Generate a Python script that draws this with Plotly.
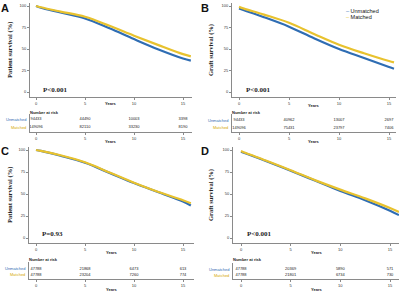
import plotly.graph_objects as go

W, H = 400, 293
BLUE = "#2f6db3"
YELLOW = "#e8c22e"

# ---- data ----
t_pts = [0, 0.5, 2.5, 5, 7.5, 10, 12.5, 15]
A_unm = [100, 98, 92.5, 85.5, 74, 61.5, 49.5, 39]
A_mat = [100, 98.5, 93.5, 87.5, 77, 65.5, 54.5, 44]
A_end = [15.8, 36.5, 41.5]
B_unm = [97, 95, 87, 76, 62.5, 50, 39.5, 29]
B_mat = [99, 97, 90, 80.5, 67.5, 55, 45, 36]
B_end = [15.5, 27, 34.5]
C_unm = [100, 99, 93.5, 85.5, 74, 62.5, 52, 41.5]
C_mat = [100, 99, 94, 86, 74.5, 62.8, 52.3, 43]
C_end = [15.8, 37, 39.5]
D_unm = [98, 96, 87.5, 76.5, 65, 53.5, 43, 31]
D_mat = [99, 96.5, 88, 77, 65.5, 55, 45, 34]
D_end = [15.9, 26, 29.5]

risk_years = [0, 5, 10, 15]
A_risk_unm = ["94433", "44490", "10003", "3398"]
A_risk_mat = ["149096", "82110", "33230", "8190"]
B_risk_unm = ["94433", "40962", "13007", "2697"]
B_risk_mat = ["149096", "75431", "23797", "7406"]
C_risk_unm = ["47788", "21868", "6473", "613"]
C_risk_mat = ["47788", "23204", "7260", "774"]
D_risk_unm = ["47788", "20369", "5890", "571"]
D_risk_mat = ["47788", "21801", "6734", "730"]

panels = [
    dict(letter="A", ytitle="Patient survival (%)", p="P<0.001", unm=A_unm, mat=A_mat, end=A_end,
         ru=A_risk_unm, rm=A_risk_mat,
         x0=36, x15=183, left=30, right=192, y100=6, yz=92, top=3, bot=97,
         r1=119, r2=127, raxis=132, rtop=114, lx=5, ly=8, tx=10, yt=50,
         years=104, tick2=136, years2=141, nar=112, pv=(41, 90)),
    dict(letter="B", ytitle="Graft survival (%)", p="P<0.001", unm=B_unm, mat=B_mat, end=B_end,
         ru=B_risk_unm, rm=B_risk_mat,
         x0=239, x15=389, left=232, right=396, y100=6, yz=92, top=3, bot=97,
         r1=120, r2=127.5, raxis=132, rtop=114, lx=205, ly=8, tx=211, yt=50,
         years=105, tick2=136, years2=141, nar=112, pv=(244, 90)),
    dict(letter="C", ytitle="Patient survival (%)", p="P=0.93", unm=C_unm, mat=C_mat, end=C_end,
         ru=C_risk_unm, rm=C_risk_mat,
         x0=36, x15=183, left=29, right=194, y100=150, yz=238, top=147, bot=243,
         r1=268.5, r2=274.5, raxis=279, rtop=262, lx=5, ly=151, tx=10, yt=195,
         years=252, tick2=283, years2=289, nar=259, pv=(40, 234)),
    dict(letter="D", ytitle="Graft survival (%)", p="P<0.001", unm=D_unm, mat=D_mat, end=D_end,
         ru=D_risk_unm, rm=D_risk_mat,
         x0=241, x15=390, left=233, right=399, y100=150, yz=238, top=147, bot=243,
         r1=269, r2=275, raxis=279, rtop=263, lx=205, ly=151, tx=211, yt=195,
         years=252, tick2=283, years2=289, nar=259, pv=(245, 234)),
]


def pxx(x):
    return x / W


def pyy(y):
    return 1 - y / H


fig = go.Figure()
layout = dict(width=W, height=H, margin=dict(l=0, r=0, t=0, b=0),
              paper_bgcolor="white", plot_bgcolor="white", showlegend=False)
annotations = []
AX = "#8a8a8a"
tickfont = dict(family="Liberation Sans", size=4, color="#333")

for i, P in enumerate(panels):
    mi = i + 1
    ti = i + 5
    sx = (P["x15"] - P["x0"]) / 15
    xr = [-(P["x0"] - P["left"]) / sx, 15 + (P["right"] - P["x15"]) / sx]
    sy = (P["yz"] - P["y100"]) / 100
    yr = [-(P["bot"] - P["yz"]) / sy, 100 + (P["y100"] - P["top"]) / sy]
    xd = [pxx(P["left"]), pxx(P["right"])]

    xs = t_pts + [P["end"][0]]
    fig.add_trace(go.Scatter(x=xs, y=P["unm"] + [P["end"][1]], mode="lines",
                             line=dict(color=BLUE, width=2.2, shape="spline"),
                             xaxis=f"x{mi}", yaxis=f"y{mi}", name="Unmatched"))
    fig.add_trace(go.Scatter(x=xs, y=P["mat"] + [P["end"][2]], mode="lines",
                             line=dict(color=YELLOW, width=2.2, shape="spline"),
                             xaxis=f"x{mi}", yaxis=f"y{mi}", name="Matched"))

    layout[f"xaxis{mi}"] = dict(domain=xd, range=xr, anchor=f"y{mi}", tickvals=risk_years,
                                showline=True, linecolor=AX, linewidth=1, ticks="outside",
                                ticklen=2, tickcolor=AX, tickfont=tickfont, showgrid=False,
                                zeroline=False)
    layout[f"yaxis{mi}"] = dict(domain=[pyy(P["bot"]), pyy(P["top"])], range=yr,
                                anchor=f"x{mi}", tickvals=[0, 25, 50, 75, 100],
                                showline=True, linecolor=AX, linewidth=1, ticks="outside",
                                ticklen=2, tickcolor=AX, tickfont=tickfont, showgrid=False,
                                zeroline=False)

    # risk table
    s = P["r2"] - P["r1"]
    tyr = [1 - (P["raxis"] - P["r2"]) / s, 2 + (P["r1"] - P["rtop"]) / s]
    layout[f"xaxis{ti}"] = dict(domain=xd, range=xr, anchor=f"y{ti}", tickvals=risk_years,
                                showline=True, linecolor=AX, linewidth=1, ticks="outside",
                                ticklen=2, tickcolor=AX, tickfont=tickfont, showgrid=False,
                                zeroline=False)
    layout[f"yaxis{ti}"] = dict(domain=[pyy(P["raxis"]), pyy(P["rtop"])], range=tyr,
                                anchor=f"x{ti}", showline=True, linecolor=AX, linewidth=1,
                                showticklabels=False, ticks="", showgrid=False, zeroline=False)
    fig.add_trace(go.Scatter(x=risk_years, y=[2] * 4, text=P["ru"], mode="text",
                             textfont=dict(family="Liberation Sans", size=4, color="#222"),
                             cliponaxis=False, xaxis=f"x{ti}", yaxis=f"y{ti}"))
    fig.add_trace(go.Scatter(x=risk_years, y=[1] * 4, text=P["rm"], mode="text",
                             textfont=dict(family="Liberation Sans", size=4, color="#222"),
                             cliponaxis=False, xaxis=f"x{ti}", yaxis=f"y{ti}"))

    # text annotations
    annotations += [
        dict(text=f"<b>{P['letter']}</b>", x=pxx(P["lx"]), y=pyy(P["ly"]), xref="paper",
             yref="paper", showarrow=False, xanchor="center", yanchor="middle",
             font=dict(family="Liberation Sans", size=11, color="#111")),
        dict(text=f"<b>{P['ytitle']}</b>", x=pxx(P["tx"]), y=pyy(P["yt"]), xref="paper",
             yref="paper", showarrow=False, textangle=-90, xanchor="center", yanchor="middle",
             font=dict(family="Liberation Serif", size=6.5, color="#222")),
        dict(text=f"<b>{P['p']}</b>", x=pxx(P["pv"][0]), y=pyy(P["pv"][1]), xref="paper",
             yref="paper", showarrow=False, xanchor="left", yanchor="middle",
             font=dict(family="Liberation Serif", size=7, color="#222")),
        dict(text="<b>Years</b>", x=(xd[0] + xd[1]) / 2, y=pyy(P["years"]), xref="paper",
             yref="paper", showarrow=False, xanchor="center", yanchor="middle",
             font=dict(family="Liberation Sans", size=4, color="#222")),
        dict(text="<b>Years</b>", x=(xd[0] + xd[1]) / 2, y=pyy(P["years2"]), xref="paper",
             yref="paper", showarrow=False, xanchor="center", yanchor="middle",
             font=dict(family="Liberation Sans", size=4, color="#222")),
        dict(text="<b>Number at risk</b>", x=pxx(P["left"] - 2), y=pyy(P["nar"]), xref="paper",
             yref="paper", showarrow=False, xanchor="left", yanchor="middle",
             font=dict(family="Liberation Sans", size=4, color="#222")),
        dict(text="Unmatched", x=pxx(P["left"] - 2), y=pyy(P["r1"]), xref="paper",
             yref="paper", showarrow=False, xanchor="right", yanchor="middle",
             font=dict(family="Liberation Sans", size=4, color=BLUE)),
        dict(text="Matched", x=pxx(P["left"] - 2), y=pyy(P["r2"]), xref="paper",
             yref="paper", showarrow=False, xanchor="right", yanchor="middle",
             font=dict(family="Liberation Sans", size=4, color="#d4a800")),
    ]

# legend (panel B)
annotations += [
    dict(text=f"<span style='color:{BLUE}'>–</span> Unmatched", x=pxx(344), y=pyy(11),
         xref="paper", yref="paper", showarrow=False, xanchor="left", yanchor="middle",
         font=dict(family="Liberation Sans", size=5.5, color="#111")),
    dict(text=f"<span style='color:{YELLOW}'>–</span> Matched", x=pxx(344), y=pyy(17),
         xref="paper", yref="paper", showarrow=False, xanchor="left", yanchor="middle",
         font=dict(family="Liberation Sans", size=5.5, color="#111")),
]
layout["annotations"] = annotations
fig.update_layout(**layout)
fig.write_html("out.html", config={"displayModeBar": False},
               post_script="document.body.style.margin='0';document.body.style.overflow='hidden';")
